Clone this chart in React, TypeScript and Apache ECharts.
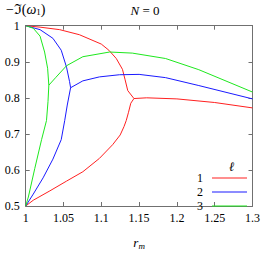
import React, { useEffect, useRef } from "react";
import * as echarts from "echarts";

const xTicks = [1, 1.05, 1.1, 1.15, 1.2, 1.25, 1.3];
const yTicks = [0.5, 0.6, 0.7, 0.8, 0.9, 1];
const legendNames = ["1", "2", "3"];
const colors = ["#ff2020", "#1a1aff", "#1ee81e"];

// l = 1 (red)
const red_upper = [[1, 1], [1.019, 0.996], [1.045, 0.989], [1.071, 0.975], [1.1, 0.949], [1.11, 0.932], [1.1198, 0.909], [1.128, 0.879], [1.1315, 0.85], [1.135, 0.82], [1.1432, 0.798]];
const red_right = [[1.1432, 0.798], [1.16, 0.8], [1.2, 0.797], [1.25, 0.787], [1.3, 0.772]];
const red_lower = [[1, 0.5], [1.01, 0.516], [1.032, 0.542], [1.054, 0.569], [1.0756, 0.595], [1.0975, 0.632], [1.115, 0.67], [1.125, 0.697], [1.13, 0.72], [1.133, 0.737], [1.136, 0.76], [1.139, 0.785], [1.1432, 0.798]];
// l = 2 (blue)
const blue_upper = [[1, 1], [1.019, 0.989], [1.036, 0.965], [1.047, 0.932], [1.054, 0.885], [1.058, 0.845], [1.0594, 0.828]];
const blue_right = [[1.0594, 0.828], [1.0756, 0.847], [1.0975, 0.858], [1.124, 0.864], [1.15, 0.865], [1.185, 0.856], [1.229, 0.834], [1.3, 0.797]];
const blue_lower = [[1, 0.5], [1.01, 0.533], [1.023, 0.578], [1.036, 0.63], [1.047, 0.684], [1.0516, 0.737], [1.055, 0.78], [1.0594, 0.828]];
// l = 3 (green)
const green_upper = [[1, 1], [1.01, 0.993], [1.019, 0.971], [1.025, 0.927], [1.029, 0.882], [1.0306, 0.835]];
const green_right = [[1.0306, 0.835], [1.04, 0.857], [1.054, 0.889], [1.0756, 0.914], [1.111, 0.927], [1.141, 0.924], [1.185, 0.909], [1.229, 0.878], [1.3, 0.816]];
const green_lower = [[1, 0.5], [1.0035, 0.525], [1.012, 0.604], [1.021, 0.684], [1.0275, 0.737], [1.0295, 0.79], [1.0306, 0.835]];

const groups = [
  [red_upper, red_right, red_lower],
  [blue_upper, blue_right, blue_lower],
  [green_upper, green_right, green_lower],
];

const FONT = "Liberation Serif";
const FRAME = "#707070";

export default function App() {
  const ref = useRef<HTMLDivElement>(null);
  useEffect(() => {
    const chart = echarts.init(ref.current!, null, { renderer: "svg" });
    const series: any[] = [];
    groups.forEach((g, i) => {
      g.forEach((d) => {
        series.push({
          type: "line",
          name: legendNames[i],
          data: d,
          symbol: "none",
          showSymbol: false,
          lineStyle: { color: colors[i], width: 1 },
          itemStyle: { color: colors[i] },
          xAxisIndex: 0,
          yAxisIndex: 0,
        });
      });
    });
    const axisCommon = {
      axisLine: { show: true, lineStyle: { color: FRAME, width: 1 } },
      axisTick: { show: true, inside: true, length: 4, lineStyle: { color: FRAME } },
      splitLine: { show: false },
    };
    chart.setOption({
      animation: false,
      textStyle: { fontFamily: FONT },
      title: [
        {
          text: "{i|N} = 0",
          left: 140,
          top: -1,
          textAlign: "center",
          textStyle: {
            fontFamily: FONT,
            fontSize: 13,
            fontWeight: "normal",
            color: "#000",
            rich: { i: { fontStyle: "italic", fontFamily: FONT, fontSize: 13, color: "#000" } },
          },
        },
        {
          text: "ℓ",
          left: 224,
          top: 155,
          textStyle: { fontFamily: FONT, fontSize: 13, fontWeight: "normal", fontStyle: "italic", color: "#000" },
        },
      ],
      legend: {
        data: legendNames.map((n, i) => ({
          name: n,
          icon: "rect",
          itemStyle: { color: colors[i], opacity: 1, borderWidth: 0 },
        })),
        orient: "vertical",
        right: 16,
        top: 172,
        padding: 0,
        align: "right",
        itemWidth: 35,
        itemHeight: 1.2,
        itemGap: 2,
        textStyle: { fontFamily: FONT, fontSize: 12, lineHeight: 11, color: "#000", padding: [0, 4, 0, 0] },
      },
      grid: { left: 25.7, right: 9, top: 25.7, bottom: 40.7, containLabel: false },
      xAxis: [
        {
          type: "value",
          min: 1,
          max: 1.3,
          interval: 0.05,
          ...axisCommon,
          axisLabel: {
            margin: 6,
            fontFamily: FONT,
            fontSize: 12,
            color: "#000",
            formatter: (v: number) => {
              const t = xTicks.find((x) => Math.abs(x - v) < 1e-6);
              return t === undefined ? "" : String(t);
            },
          },
          name: "{i|r}{s|m}",
          nameLocation: "middle",
          nameGap: 29,
          nameTextStyle: {
            fontFamily: FONT,
            color: "#000",
            rich: {
              i: { fontStyle: "italic", fontSize: 13, fontFamily: FONT, color: "#000" },
              s: { fontStyle: "italic", fontSize: 9, fontFamily: FONT, color: "#000", padding: [6, 0, 0, 0] },
            },
          },
        },
        {
          type: "value",
          min: 1,
          max: 1.3,
          interval: 0.05,
          position: "top",
          ...axisCommon,
          axisLabel: { show: false },
        },
      ],
      yAxis: [
        {
          type: "value",
          min: 0.5,
          max: 1,
          interval: 0.1,
          ...axisCommon,
          axisLabel: {
            margin: 6,
            fontFamily: FONT,
            fontSize: 12,
            color: "#000",
            formatter: (v: number) => {
              const t = yTicks.find((y) => Math.abs(y - v) < 1e-6);
              return t === undefined ? "" : String(t);
            },
          },
          name: "{a|−ℑ(}{i|ω}{s|1}{a|)}",
          nameLocation: "end",
          nameGap: 9,
          nameTextStyle: {
            fontFamily: FONT,
            color: "#000",
            align: "center",
            rich: {
              a: { fontSize: 14, fontFamily: FONT, color: "#000" },
              i: { fontStyle: "italic", fontSize: 14, fontFamily: FONT, color: "#000" },
              s: { fontSize: 9, fontFamily: FONT, color: "#000", padding: [6, 0, 0, 0] },
            },
          },
        },
        {
          type: "value",
          min: 0.5,
          max: 1,
          interval: 0.1,
          position: "right",
          ...axisCommon,
          axisLabel: { show: false },
        },
      ],
      series,
    });
    return () => chart.dispose();
  }, []);
  return <div ref={ref} style={{ position: "absolute", left: 0, top: 0, width: 263, height: 255 }} />;
}
